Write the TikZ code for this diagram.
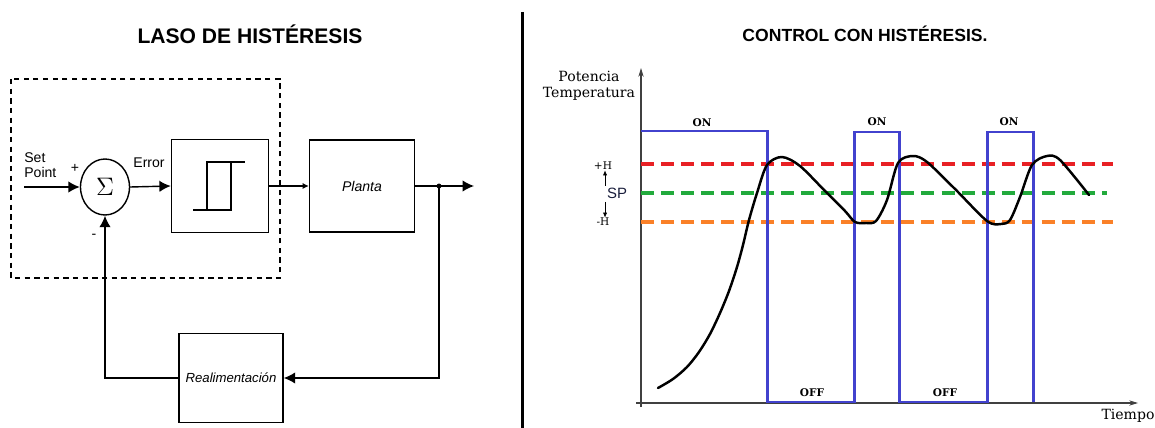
\documentclass[tikz,border=0pt]{standalone}
\usepackage{fontspec}
\setmainfont{Liberation Sans}
\newfontfamily\letraSerif{DejaVu Serif}
\usetikzlibrary{arrows.meta,shapes.geometric}
\definecolor{azulon}{RGB}{66,66,206}
\definecolor{rojoh}{RGB}{232,32,36}
\definecolor{verdesp}{RGB}{34,170,60}
\definecolor{naranjah}{RGB}{250,128,40}
\definecolor{tinta}{RGB}{25,30,60}

\begin{document}
\begin{tikzpicture}[
    x=0.2mm, y=-0.2mm,
    % Bloques del lazo
    bloque/.style={
        draw,
        line width=0.8pt,
        fill=white,
        font=\fontsize{8}{9}\selectfont\itshape,
        align=center
    },
    sumador/.style={
        draw, ellipse,
        line width=0.8pt,
        minimum width=0.98cm,
        minimum height=1.12cm,
        inner sep=0pt
    },
    flecha/.style={draw, line width=0.8pt, -{Latex[length=6.5pt,width=6.5pt]}},
    flechita/.style={draw, line width=0.8pt, -{Latex[length=3.5pt,width=3.5pt]}},
    etiq/.style={font=\fontsize{8}{8.5}\selectfont, inner sep=0pt},
    % Grafica del control
    eje/.style={draw, line width=0.6pt, black!75, -{Stealth[length=5pt,width=3pt]}},
    banda/.style={line width=2.2pt, dash pattern=on 7.4pt off 4pt},
    texto/.style={font=\letraSerif\bfseries\fontsize{6}{7}\selectfont, inner sep=0pt}
]

\useasboundingbox (0,0) rectangle (1155,428);

% ---- TITULOS ----
\node[font=\fontsize{12}{14}\selectfont\bfseries] (tit_lazo) at (250,34) {LASO DE HISTÉRESIS};
\node[font=\fontsize{10}{12}\selectfont\bfseries] (tit_ctrl) at (865,34) {CONTROL CON HISTÉRESIS.};
\draw[line width=1.7pt] (522,12) -- (522,428);

% ---- LAZO DE CONTROL ----
\draw[line width=0.8pt, dash pattern=on 3pt off 2.5pt] (11,79) rectangle (280,278);

\node[sumador] (suma) at (105,187) {\fontsize{15}{16}\selectfont$\Sigma$};
\node[bloque, minimum width=1.94cm, minimum height=1.86cm] (hist) at (220,186) {};
\node[bloque, minimum width=2.1cm, minimum height=1.84cm] (planta) at (362,186) {Planta};
\node[bloque, minimum width=2.08cm, minimum height=1.78cm, font=\fontsize{7.5}{9}\selectfont\itshape] (realim) at (231,378) {Realimentación};

% simbolo del ciclo de histeresis
\draw[line width=0.8pt] (193,210) -- (231,210) -- (231,162) -- (245,162);
\draw[line width=0.8pt] (207,210) -- (207,162) -- (231,162);

\node[etiq, anchor=west, align=left] (setp) at (24,165) {Set\\Point};
\node[etiq] (mas) at (75,168) {+};
\node[etiq] (menos) at (94,236) {-};
\node[etiq] (error) at (149,163) {Error};

\coordinate (entrada) at (24,187);
\coordinate (rama) at (439,186);
\coordinate (salida) at (474,186);

\draw[flecha]   (entrada) -- (suma.west);
\draw[flecha]   (suma.east) -- (hist.west);
\draw[flechita] (hist.east) -- (planta.west);
\draw[flecha]   (planta.east) -- (salida);
\fill (rama) circle (1.4pt);
\draw[flecha]   (rama) |- (realim.east);
\draw[flecha]   (realim.west) -| (suma.south);

% ---- GRAFICA DE HISTERESIS ----
\coordinate (tope_y) at (641,68);
\coordinate (fin_x) at (1138,403);
\draw[eje] (641,407) -- (tope_y);
\draw[eje] (636,403) -- (fin_x);

\node[font=\letraSerif\fontsize{8}{9}\selectfont, align=center, inner sep=0pt] (magnitud) at (589,86) {Potencia\\Temperatura};
\node[font=\letraSerif\fontsize{8}{9}\selectfont, inner sep=0pt] (tiempo) at (1128,416) {Tiempo};

% bandas de histeresis
\draw[banda, rojoh]    (641,164) -- (1113,164);
\draw[banda, verdesp]  (641,193) -- (1107,193);
\draw[banda, naranjah] (641,222) -- (1113,222);

\node[texto, font=\letraSerif\fontsize{6}{7}\selectfont] (h_mas) at (603,166) {+H};
\node[texto, font=\letraSerif\fontsize{6}{7}\selectfont] (h_menos) at (603,222) {-H};
\node[font=\fontsize{8.5}{9}\selectfont, text=tinta, inner sep=0pt] (sp) at (617,193) {SP};
\draw[line width=0.5pt, -{Latex[length=3pt,width=2.5pt]}] (605,186) -- (h_mas.south -| 605,0);
\draw[line width=0.5pt, -{Latex[length=3pt,width=2.5pt]}] (605,202) -- (h_menos.north -| 605,0);

% senal del actuador
\draw[line width=1.7pt, azulon, line join=miter]
    (641,131) -- (767,131) -- (767,402) -- (854,402) -- (854,132) -- (899,132)
    -- (899,402) -- (987,402) -- (987,132) -- (1033,132) -- (1033,402);

\node[texto] (on1) at (702,123) {ON};
\node[texto] (on2) at (877,122) {ON};
\node[texto] (on3) at (1009,122) {ON};
\node[texto] (off1) at (812,393) {OFF};
\node[texto] (off2) at (945,393) {OFF};

% temperatura medida
\draw[line width=1.4pt, line cap=round, line join=round]
    plot[smooth, tension=0.5] coordinates {
    (658,388) (673,379) (687,367) (699,352) (710,334) (720,313) (729,291)
    (737,267) (743,245) (749,220) (757,193) (767,165) (782,157) (800,166)
    (825,191) (845,211) (855,222) (866,223) (876,221) (887,200) (898,163)
    (913,156) (927,162) (955,189) (987,221) (1001,224) (1010,220) (1020,197)
    (1032,165) (1047,156) (1060,160) (1089,195)};

\end{tikzpicture}
\end{document}
